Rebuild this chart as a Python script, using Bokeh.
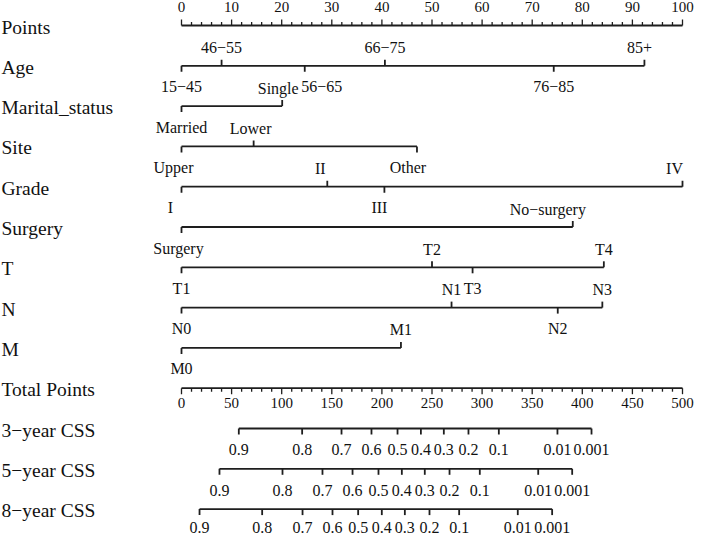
from bokeh.plotting import figure
from bokeh.models import Range1d, ColumnDataSource
from bokeh.embed import file_html
from bokeh.resources import INLINE
from bokeh.core.properties import value

# ---------------- data ----------------
row_names = ["Points", "Age", "Marital_status", "Site", "Grade", "Surgery", "T", "N", "M",
             "Total Points", "3\u2212year CSS", "5\u2212year CSS", "8\u2212year CSS"]

points_ticks = [0, 10, 20, 30, 40, 50, 60, 70, 80, 90, 100]

age_labels = ["15\u221245", "46\u221255", "56\u221265", "66\u221275", "76\u221285", "85+"]
age_points = [0, 8.0, 24.6, 40.6, 74.3, 92.4]

marital_labels = ["Married", "Single"]
marital_points = [0, 20.1]

site_labels = ["Upper", "Lower", "Other"]
site_points = [0, 14.4, 47.0]

grade_labels = ["I", "II", "III", "IV"]
grade_points = [0, 29.1, 40.5, 100]

surgery_labels = ["Surgery", "No\u2212surgery"]
surgery_points = [0, 78.1]

t_labels = ["T1", "T2", "T3", "T4"]
t_points = [0, 50.0, 58.1, 84.3]

n_labels = ["N0", "N1", "N2", "N3"]
n_points = [0, 53.9, 75.1, 84.0]

m_labels = ["M0", "M1"]
m_points = [0, 43.8]

total_ticks = [0, 50, 100, 150, 200, 250, 300, 350, 400, 450, 500]

css_labels = ["0.9", "0.8", "0.7", "0.6", "0.5", "0.4", "0.3", "0.2", "0.1", "0.01", "0.001"]
css3_total = [57.2, 120.4, 159.7, 189.6, 215.6, 238.9, 261.8, 286.4, 316.7, 375.2, 409.2]
css5_total = [37.9, 100.8, 140.7, 170.7, 196.6, 219.9, 242.8, 267.5, 297.7, 356.0, 389.9]
css8_total = [18.0, 80.5, 120.8, 150.7, 176.3, 199.9, 222.9, 247.5, 277.1, 335.6, 369.9]

# ---------------- layout / style ----------------
W, H = 709, 536
PX = 5.01             # pixels per point
X0 = 181              # pixel of 0 points
x_start = -X0 / PX
x_end = (W - X0) / PX

ROW0, ROWSTEP = 25, 40.3
def row_y(i):
    return ROW0 + ROWSTEP * i

LINE_COLOR = "#1e1e1e"
TEXT_COLOR = "#111111"
FONT = value("Liberation Serif")
LW = 1.8
TICK = 6

# label x nudges in pixels (layout only)
nudge = {"Upper": -8, "Lower": -3, "Other": -9, "I": -11, "II": -7, "III": -5, "IV": -8,
         "Single": -4, "56\u221265": 17, "85+": -5, "No\u2212surgery": -25, "Surgery": -3}

p = figure(width=W, height=H, output_backend="svg", toolbar_location=None,
           x_range=Range1d(x_start, x_end), y_range=Range1d(H, 0),
           min_border=0, min_border_left=0, min_border_right=0,
           min_border_top=0, min_border_bottom=0)
p.extra_x_ranges = {"total": Range1d(x_start * 5, x_end * 5)}
p.axis.visible = False
p.grid.visible = False
p.outline_line_color = None
p.background_fill_color = "white"
p.border_fill_color = "white"

# row names
name_src = ColumnDataSource(dict(x=[x_start + 1 / PX] * len(row_names),
                                 y=[row_y(i) + 1.5 for i in range(len(row_names))],
                                 t=row_names))
p.text(x="x", y="y", text="t", source=name_src, text_font=FONT, text_font_size="19.5px",
       text_color=TEXT_COLOR, text_baseline="middle", text_align="left")

# ---- Points axis (row 0)
y = row_y(0)
p.segment(x0=[0], y0=[y], x1=[100], y1=[y], line_color=LINE_COLOR, line_width=LW)
minor = [v for v in range(0, 101, 2) if v % 10 != 0]
p.segment(x0=minor, y0=[y] * len(minor), x1=minor, y1=[y - 3.5] * len(minor),
          line_color=LINE_COLOR, line_width=1.3)
p.segment(x0=points_ticks, y0=[y] * len(points_ticks), x1=points_ticks,
          y1=[y - TICK] * len(points_ticks), line_color=LINE_COLOR, line_width=1.3)
p.text(x=points_ticks, y=[y - 19] * len(points_ticks), text=[str(v) for v in points_ticks],
       text_font=FONT, text_font_size="15px", text_color=TEXT_COLOR,
       text_align="center", text_baseline="middle")

# ---- categorical predictor rows
predictors = [(age_labels, age_points), (marital_labels, marital_points),
              (site_labels, site_points), (grade_labels, grade_points),
              (surgery_labels, surgery_points), (t_labels, t_points),
              (n_labels, n_points), (m_labels, m_points)]

for k, (labs, pts) in enumerate(predictors):
    y = row_y(k + 1)
    p.segment(x0=[min(pts)], y0=[y], x1=[max(pts)], y1=[y], line_color=LINE_COLOR, line_width=LW)
    tx, ty0, ty1, lx, ly, lt = [], [], [], [], [], []
    for j, (lab, v) in enumerate(zip(labs, pts)):
        above = (j % 2 == 1)
        tx.append(v)
        ty0.append(y)
        ty1.append(y - TICK if above else y + TICK)
        lx.append(v + nudge.get(lab, 0) / PX)
        ly.append(y - 18 if above else y + 21)
        lt.append(lab)
    p.segment(x0=tx, y0=ty0, x1=tx, y1=ty1, line_color=LINE_COLOR, line_width=LW)
    p.text(x=lx, y=ly, text=lt, text_font=FONT, text_font_size="16px", text_color=TEXT_COLOR,
           text_align="center", text_baseline="middle")

# ---- Total Points axis (row 9)
y = row_y(9)
p.segment(x0=[0], y0=[y], x1=[500], y1=[y], line_color=LINE_COLOR, line_width=LW,
          x_range_name="total")
tminor = [v for v in range(0, 501, 10) if v % 50 != 0]
p.segment(x0=tminor, y0=[y] * len(tminor), x1=tminor, y1=[y + 3.5] * len(tminor),
          line_color=LINE_COLOR, line_width=1.3, x_range_name="total")
p.segment(x0=total_ticks, y0=[y] * len(total_ticks), x1=total_ticks,
          y1=[y + TICK] * len(total_ticks), line_color=LINE_COLOR, line_width=1.3,
          x_range_name="total")
p.text(x=total_ticks, y=[y + 15] * len(total_ticks), text=[str(v) for v in total_ticks],
       text_font=FONT, text_font_size="15px", text_color=TEXT_COLOR,
       text_align="center", text_baseline="middle", x_range_name="total")

# ---- survival rows
label_offsets = [21, 21.5, 18.8]
for k, vals in enumerate([css3_total, css5_total, css8_total]):
    y = row_y(10 + k)
    p.segment(x0=[min(vals)], y0=[y], x1=[max(vals)], y1=[y], line_color=LINE_COLOR,
              line_width=LW, x_range_name="total")
    p.segment(x0=vals, y0=[y] * len(vals), x1=vals, y1=[y + TICK] * len(vals),
              line_color=LINE_COLOR, line_width=LW, x_range_name="total")
    p.text(x=vals, y=[y + label_offsets[k]] * len(vals), text=css_labels, text_font=FONT,
           text_font_size="16px", text_color=TEXT_COLOR, text_align="center",
           text_baseline="middle", x_range_name="total")

open("out.html", "w").write(file_html(p, INLINE))
